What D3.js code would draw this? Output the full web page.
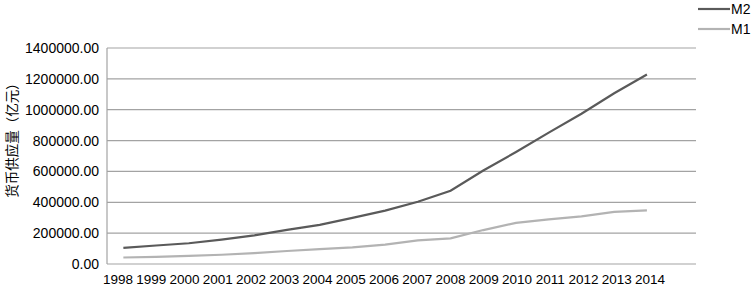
<!DOCTYPE html>
<html lang="zh">
<head>
  <meta charset="utf-8">
  <title>M1 M2</title>
  <style>
    body { margin: 0; background: #fff; }
    svg text { font-family: "Liberation Sans", Arial, sans-serif; fill: #000; }
  </style>
</head>
<body>
  <svg id="chart"></svg>
  <script src="https://d3js.org/d3.v7.min.js"></script>
  <script>
  // data (亿元)
  const years = [1998, 1999, 2000, 2001, 2002, 2003, 2004, 2005, 2006, 2007, 2008, 2009, 2010, 2011, 2012, 2013, 2014];
  const m2 = [104500, 119900, 134600, 158300, 185000, 221200, 254100, 298800, 345600, 403400, 475200, 606200, 725900, 851600, 974100, 1106500, 1228400];
  const m1 = [42000, 45800, 53100, 59900, 70900, 84100, 96000, 107300, 126000, 152600, 166200, 220000, 266600, 289800, 308700, 337300, 348100];
  const yTicks = [0, 200000, 400000, 600000, 800000, 1000000, 1200000, 1400000];
  const seriesNames = ["M2", "M1"];
  const seriesColors = ["#5a5a5a", "#b3b3b3"];

  const W = 752, H = 289;
  const plot = { left: 107, right: 696, top: 48, bottom: 264 };

  const svg = d3.select("#chart").attr("width", W).attr("height", H);

  const x = d3.scaleLinear().domain([1997.5, 2015.5]).range([plot.left, plot.right]);
  const y = d3.scaleLinear().domain([0, 1400000]).range([plot.bottom, plot.top]);
  // the year labels sit a little wider apart than the points
  const xLab = d3.scaleLinear().domain([1998, 2014]).range([118, 650]);

  // gridlines
  svg.append("g").selectAll("line")
    .data(yTicks).enter().append("line")
    .attr("x1", plot.left).attr("x2", plot.right)
    .attr("y1", d => y(d)).attr("y2", d => y(d))
    .attr("stroke", "#a3a3a3").attr("stroke-width", 1.2);

  svg.append("line")
    .attr("x1", plot.left).attr("x2", plot.left)
    .attr("y1", plot.top).attr("y2", plot.bottom)
    .attr("stroke", "#a3a3a3").attr("stroke-width", 1.2);

  // y labels
  svg.append("g").selectAll("text")
    .data(yTicks).enter().append("text")
    .attr("x", plot.left - 8).attr("y", d => y(d))
    .attr("text-anchor", "end").attr("dominant-baseline", "central")
    .style("font-size", "14px")
    .text(d => d3.format(".2f")(d));

  // x labels
  svg.append("g").selectAll("text")
    .data(years).enter().append("text")
    .attr("x", d => xLab(d)).attr("y", 284)
    .attr("text-anchor", "middle")
    .style("font-size", "13.5px")
    .text(d => d);

  // y title
  svg.append("text")
    .attr("transform", "translate(17,137) rotate(-90)")
    .attr("text-anchor", "middle")
    .style("font-family", "'Noto Sans CJK SC', sans-serif")
    .style("font-size", "13.5px")
    .text("货币供应量（亿元）");

  const line = d3.line().x((d, i) => x(years[i])).y(d => y(d));
  [m2, m1].forEach((vals, k) => {
    svg.append("path")
      .datum(vals)
      .attr("d", line)
      .attr("fill", "none")
      .attr("stroke", seriesColors[k])
      .attr("stroke-width", 2.2);
  });

  // legend
  const legend = svg.append("g").selectAll("g")
    .data(seriesNames).enter().append("g")
    .attr("transform", (d, i) => `translate(698, ${9 + i * 20})`);
  legend.append("line")
    .attr("x1", 0).attr("x2", 32)
    .attr("stroke", (d, i) => seriesColors[i]).attr("stroke-width", 2.2);
  legend.append("text")
    .attr("x", 33).attr("dominant-baseline", "central")
    .style("font-size", "14px")
    .text(d => d);
  </script>
</body>
</html>
